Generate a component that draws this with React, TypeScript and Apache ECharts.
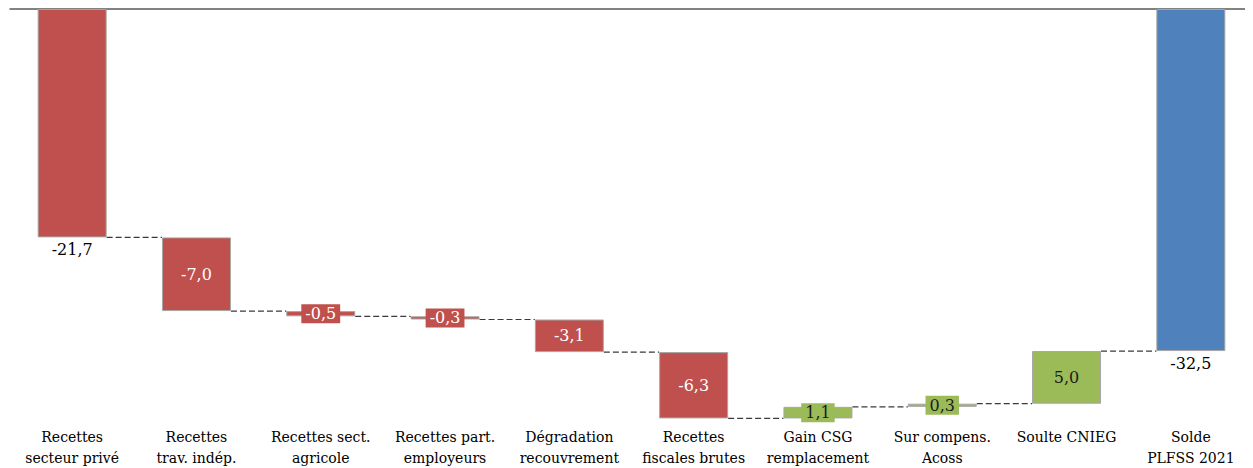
import React, { useEffect, useRef } from "react";
import * as echarts from "echarts";

const categories = [
  "Recettes\nsecteur privé",
  "Recettes\ntrav. indép.",
  "Recettes sect.\nagricole",
  "Recettes part.\nemployeurs",
  "Dégradation\nrecouvrement",
  "Recettes\nfiscales brutes",
  "Gain CSG\nremplacement",
  "Sur compens.\nAcoss",
  "Soulte CNIEG",
  "Solde\nPLFSS 2021",
];
// signed change displayed on each bar
const changes = [-21.7, -7.0, -0.5, -0.3, -3.1, -6.3, 1.1, 0.3, 5.0, -32.5];
const kinds = ["neg", "neg", "neg", "neg", "neg", "neg", "pos", "pos", "pos", "total"];

const RED = "#C0504D";
const GREEN = "#9BBB59";
const BLUE = "#4F81BD";

export default function App() {
  const ref = useRef<HTMLDivElement>(null);
  useEffect(() => {
    if (!ref.current) return;
    const chart = echarts.init(ref.current, undefined, { renderer: "svg" });

    const base: number[] = [];
    const size: number[] = [];
    const levels: number[] = [];
    let cum = 0;
    changes.forEach((c, i) => {
      if (kinds[i] === "total") {
        base.push(0);
        size.push(c);
        cum = c;
      } else {
        const next = Math.round((cum + c) * 10) / 10;
        const top = Math.max(cum, next);
        const bottom = Math.min(cum, next);
        base.push(top);
        size.push(Math.round((bottom - top) * 10) / 10);
        cum = next;
      }
      levels.push(cum);
    });

    const fmt = (v: number) => v.toFixed(1).replace(".", ",");
    const colorOf = (k: string) => (k === "neg" ? RED : k === "pos" ? GREEN : BLUE);
    const font = "DejaVu Serif";

    const barData = size.map((s, i) => {
      const k = kinds[i];
      const col = colorOf(k);
      const outside = i === 0 || k === "total";
      return {
        value: s,
        itemStyle: { color: col, borderColor: "#A6A6A6", borderWidth: 1 },
        label: outside
          ? {
              show: true,
              position: "bottom",
              distance: 4,
              color: "#000",
              fontFamily: font,
              fontSize: 16,
              formatter: () => fmt(changes[i]),
            }
          : {
              show: true,
              position: "inside",
              color: k === "neg" ? "#fff" : "#1a1a1a",
              backgroundColor: col,
              padding: [2, 4, 1, 4],
              fontFamily: font,
              fontSize: 16,
              formatter: () => fmt(changes[i]),
            },
      };
    });

    const connectors = levels.slice(0, levels.length - 1).map((l, i) => [i, l]);

    chart.setOption({
      animation: false,
      textStyle: { fontFamily: font },
      grid: { left: 2, right: 0, top: 1, bottom: 35 },
      xAxis: [
        {
          type: "category",
          data: categories,
          position: "bottom",
          axisLine: { show: false },
          axisTick: { show: false },
          axisLabel: {
            interval: 0,
            color: "#000",
            fontFamily: font,
            fontSize: 14,
            lineHeight: 21,
            margin: -4,
          },
        },
        {
          type: "category",
          data: categories,
          position: "top",
          axisLine: { show: true, lineStyle: { color: "#595959", width: 1.5 } },
          axisTick: { show: false },
          axisLabel: { show: false },
        },
      ],
      yAxis: {
        type: "value",
        min: -40,
        max: 0,
        show: false,
        splitLine: { show: false },
      },
      series: [
        {
          type: "bar",
          stack: "w",
          data: base,
          barWidth: "55.5%",
          itemStyle: { color: "transparent" },
          silent: true,
        },
        {
          type: "bar",
          stack: "w",
          data: barData,
          barWidth: "55.5%",
        },
        {
          type: "custom",
          data: connectors,
          z: 1,
          renderItem: (params: any, api: any) => {
            const i = api.value(0);
            const l = api.value(1);
            const p1 = api.coord([i, l]);
            const p2 = api.coord([i + 1, l]);
            const band = api.size([1, 0])[0];
            const hw = (band * 0.555) / 2;
            return {
              type: "line",
              shape: { x1: p1[0] + hw, y1: p1[1], x2: p2[0] - hw, y2: p2[1] },
              style: { stroke: "#3a3a3a", lineWidth: 1.2, lineDash: [6, 3] },
            };
          },
        },
      ],
    });
    return () => chart.dispose();
  }, []);
  return <div ref={ref} style={{ width: 1245, height: 460 }} />;
}
